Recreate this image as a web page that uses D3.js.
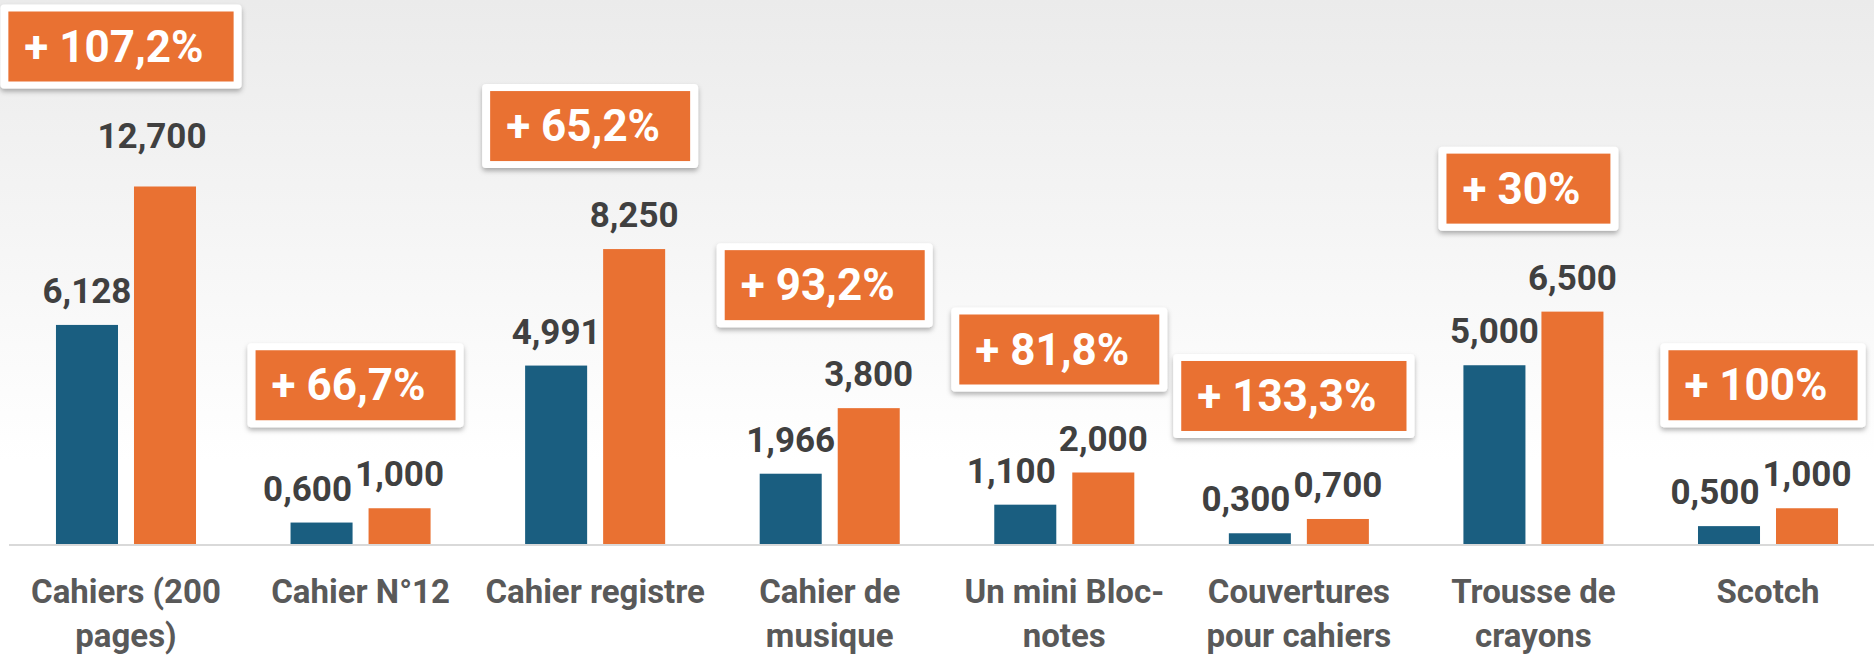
<!DOCTYPE html>
<html>
<head>
<meta charset="utf-8">
<script src="https://cdn.jsdelivr.net/npm/d3@7"></script>
<style>
html,body{margin:0;padding:0;background:#fff;}
svg{display:block;}
text{font-family:Roboto,"Noto Sans",sans-serif;font-weight:bold;}
</style>
</head>
<body>
<div id="chart"></div>
<script>
var W=1874,H=657

// data
var categories=["Cahiers (200\npages)","Cahier N°12","Cahier registre","Cahier de\nmusique","Un mini Bloc-\nnotes","Couvertures\npour cahiers","Trousse de\ncrayons","Scotch"]
var before=[6.128,0.6,4.991,1.966,1.1,0.3,5.0,0.5]
var after=[12.7,1.0,8.25,3.8,2.0,0.7,6.5,1.0]
var growth=["+ 107,2%","+ 66,7%","+ 65,2%","+ 93,2%","+ 81,8%","+ 133,3%","+ 30%","+ 100%"]
var yMax=10 // axis stops at 10, the tallest bar is cut there

var colors=["#1A5E80","#E97132"]
var fr=d3.formatLocale({decimal:",",thousands:".",grouping:[3],currency:["","€"]})
var fmt=fr.format(".3f")

var svg=d3.select("#chart").append("svg").attr("width",W).attr("height",H)
var defs=svg.append("defs")
var grad=defs.append("linearGradient").attr("id","bg").attr("x1",0).attr("x2",0).attr("y1",0).attr("y2",1)
grad.append("stop").attr("offset","0%").attr("stop-color","#ebebeb")
grad.append("stop").attr("offset","70%").attr("stop-color","#ffffff")
grad.append("stop").attr("offset","100%").attr("stop-color","#ffffff")
var sh=defs.append("filter").attr("id","shadow").attr("x","-10%").attr("y","-10%").attr("width","120%").attr("height","130%")
sh.append("feDropShadow").attr("dx",0).attr("dy",3).attr("stdDeviation",2.5).attr("flood-color","#000").attr("flood-opacity",0.3)

svg.append("rect").attr("width",W).attr("height",H).attr("fill","url(#bg)")

var x0=d3.scaleBand().domain(d3.range(categories.length)).range([8.7,1885.3]).paddingInner(0.403).paddingOuter(0.2015)
var x1=d3.scaleBand().domain([0,1]).range([0,x0.bandwidth()]).paddingInner(0.205)
var y=d3.scaleLinear().domain([0,yMax]).range([544,186.5]).clamp(true)

// baseline
svg.append("line").attr("x1",9).attr("x2",W).attr("y1",y(0)+1).attr("y2",y(0)+1)
	.attr("stroke","#d9d9d9").attr("stroke-width",2)

var rows=categories.map(function(c,i){return {i:i,vals:[before[i],after[i]]}})

var g=svg.selectAll("g.grp").data(rows).enter().append("g").attr("class","grp")
	.attr("transform",function(d){return "translate("+x0(d.i)+",0)"})

g.selectAll("rect").data(function(d){return d.vals}).enter().append("rect")
	.attr("x",function(d,k){return x1(k)})
	.attr("width",x1.bandwidth())
	.attr("y",function(d){return y(d)})
	.attr("height",function(d){return y(0)-y(d)})
	.attr("fill",function(d,k){return colors[k]})

// value labels
var labY=function(v){return y(v)-22-(v>yMax?17:0)}
g.each(function(d){
	var gg=d3.select(this)
	var yb=labY(d.vals[0]),ya=labY(d.vals[1])
	d.vals.forEach(function(v,k){
		var cx=x1(k)+x1.bandwidth()/2
		// blue label moves left when it sits level with the orange one
		if(k==0 && Math.abs(yb-ya)<40) cx-=14
		if(k==1 && v>yMax) cx-=13
		gg.append("text").attr("x",cx).attr("y",labY(v))
			.attr("text-anchor","middle").attr("font-size","35px").attr("fill","#404040")
			.text(fmt(v))
	})
	d.labTop=Math.min(yb,ya)-26
})

// growth call-outs
g.each(function(d){
	var gg=d3.select(this).append("g")
	var t=gg.append("text").attr("font-size","44px").attr("fill","#fff").text(growth[d.i])
	var tw=t.node().getComputedTextLength()
	var bw=tw+46,bh=70
	var bx=x0.bandwidth()/2-bw/2-5
	var by=d.labTop-40-bh
	gg.insert("rect","text").attr("x",bx-8).attr("y",by-7).attr("width",bw+16).attr("height",bh+14)
		.attr("rx",4).attr("fill","#fff").attr("filter","url(#shadow)")
	gg.insert("rect","text").attr("x",bx).attr("y",by).attr("width",bw).attr("height",bh).attr("fill",colors[1])
	t.attr("x",bx+16).attr("y",by+50)
})

// category labels
g.each(function(d){
	var t=d3.select(this).append("text").attr("text-anchor","middle").attr("font-size","33px").attr("fill","#595959")
	categories[d.i].split("\n").forEach(function(line,k){
		t.append("tspan").attr("x",x0.bandwidth()/2).attr("y",603+k*44).text(line)
	})
})
</script>
</body>
</html>
